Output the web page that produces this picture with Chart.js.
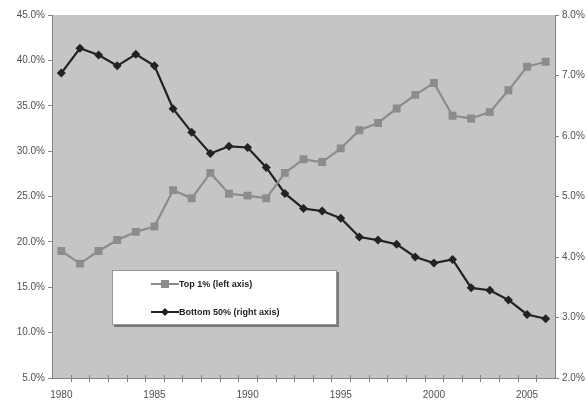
<!DOCTYPE html>
<html>
<head>
<meta charset="utf-8">
<script src="https://cdn.jsdelivr.net/npm/chart.js@4.4.0/dist/chart.umd.min.js"></script>
<style>
  html,body{margin:0;padding:0;background:#fff;}
  #wrap{width:587px;height:400px;position:relative;}
</style>
</head>
<body>
<div id="wrap"><canvas id="c"></canvas></div>
<script>
// data
var years=["1980","1981","1982","1983","1984","1985","1986","1987","1988","1989","1990","1991","1992","1993","1994","1995","1996","1997","1998","1999","2000","2001","2002","2003","2004","2005","2006"]
var top1=[19.0,17.6,19.0,20.2,21.1,21.7,25.7,24.8,27.6,25.3,25.1,24.8,27.6,29.1,28.8,30.3,32.3,33.1,34.7,36.2,37.5,33.9,33.6,34.3,36.7,39.3,39.85]
var bottom50=[7.04,7.45,7.34,7.16,7.35,7.16,6.45,6.06,5.71,5.83,5.81,5.48,5.05,4.80,4.76,4.64,4.33,4.28,4.21,4.00,3.90,3.96,3.49,3.45,3.29,3.05,2.98]
var xLabels=["1980","1985","1990","1995","2000","2005"]

var gray_line='rgb(140,140,142)'
var dark_line='rgb(34,34,34)'
var plot_bg='rgb(197,197,199)'
var axis_color='rgb(130,130,130)'
var text_color='rgb(80,80,80)'
var tick_font={size:10,family:'"Liberation Sans", Arial, sans-serif'}

// plot area background
const bgPlugin={
  id:'plotBg',
  beforeDraw:(chart)=>{
    const {ctx,chartArea:a}=chart
    ctx.save()
    ctx.fillStyle=plot_bg
    ctx.fillRect(a.left,a.top,a.right-a.left,a.bottom-a.top)
    ctx.restore()
  }
}

// x axis tick marks cross the axis line
const crossTicks={
  id:'crossTicks',
  afterDraw:(chart)=>{
    const {ctx,chartArea:a}=chart
    const xs=chart.scales.x
    var step=xs.getPixelForValue(1)-xs.getPixelForValue(0)
    ctx.save()
    ctx.strokeStyle=axis_color
    ctx.lineWidth=1
    ctx.beginPath()
    ctx.moveTo(a.left,a.bottom+0.5);ctx.lineTo(a.right,a.bottom+0.5)
    for(var i=1;i<years.length;i++){
      var px=Math.round(xs.getPixelForValue(i)-step/2)+0.5
      ctx.moveTo(px,a.bottom-3);ctx.lineTo(px,a.bottom+4)
    }
    ctx.stroke()
    ctx.restore()
  }
}

// legend box inside the plot
const boxLegend={
  id:'boxLegend',
  afterDraw:(chart)=>{
    const ctx=chart.ctx
    const x=112,y=270,w=225,h=55
    ctx.save()
    ctx.fillStyle='rgb(120,120,122)'
    ctx.fillRect(x+2,y+2,w,h)
    ctx.fillStyle='#fff'
    ctx.fillRect(x,y,w,h)
    ctx.strokeStyle='rgb(150,150,150)'
    ctx.lineWidth=1
    ctx.strokeRect(x+0.5,y+0.5,w-1,h-1)
    var rows=[y+14,y+42]
    chart.data.datasets.forEach(function(ds,i){
      var ry=rows[i]
      ctx.strokeStyle=ds.borderColor
      ctx.lineWidth=2
      ctx.beginPath();ctx.moveTo(x+39,ry);ctx.lineTo(x+67,ry);ctx.stroke()
      ctx.fillStyle=ds.borderColor
      if(ds.pointStyle=='rect'){
        ctx.fillRect(x+49,ry-4,8,8)
      }else{
        ctx.beginPath()
        ctx.moveTo(x+53,ry-4);ctx.lineTo(x+57,ry);ctx.lineTo(x+53,ry+4);ctx.lineTo(x+49,ry);ctx.closePath();ctx.fill()
      }
      ctx.fillStyle='rgb(30,30,30)'
      ctx.font='bold 9px "Liberation Sans", Arial, sans-serif'
      ctx.textBaseline='middle'
      ctx.fillText(ds.label,x+67,ry+1)
    })
    ctx.restore()
  }
}

var chart=new Chart(document.getElementById('c'),{
  type:'line',
  data:{
    labels:years,
    datasets:[{
      label:'Top 1% (left axis)',
      data:top1,
      yAxisID:'yL',
      borderColor:gray_line,
      backgroundColor:gray_line,
      borderWidth:2.2,
      pointStyle:'rect',
      pointRadius:5.6,
      pointBorderWidth:0,
      tension:0
    },{
      label:'Bottom 50% (right axis)',
      data:bottom50,
      yAxisID:'yR',
      borderColor:dark_line,
      backgroundColor:dark_line,
      borderWidth:2.2,
      pointStyle:'rectRot',
      pointRadius:4.5,
      pointBorderWidth:0,
      tension:0
    }]
  },
  options:{
    responsive:true,
    maintainAspectRatio:false,
    animation:false,
    layout:{padding:{top:15,left:0,right:0,bottom:0}},
    plugins:{legend:{display:false},tooltip:{enabled:false}},
    scales:{
      x:{
        type:'category',
        offset:true,
        afterFit:function(s){s.height=22},
        grid:{display:false,drawOnChartArea:false},
        border:{display:false},
        ticks:{
          color:text_color,
          font:tick_font,
          maxRotation:0,autoSkip:false,padding:3,
          callback:function(v,i){var l=years[i];return xLabels.indexOf(l)>=0?l:''}
        }
      },
      yL:{
        position:'left',
        min:5,max:45,
        afterFit:function(s){s.width=52},
        grid:{drawOnChartArea:false,tickLength:4,color:axis_color},
        border:{display:true,color:axis_color,width:1},
        ticks:{
          stepSize:5,color:text_color,padding:3,
          font:tick_font,
          callback:function(v){return v.toFixed(1)+'%'}
        }
      },
      yR:{
        position:'right',
        min:2,max:8,
        afterFit:function(s){s.width=32},
        grid:{drawOnChartArea:false,tickLength:4,color:axis_color},
        border:{display:true,color:axis_color,width:1},
        ticks:{
          stepSize:1,color:text_color,padding:3,
          font:tick_font,
          callback:function(v){return v.toFixed(1)+'%'}
        }
      }
    }
  },
  plugins:[bgPlugin,crossTicks,boxLegend]
})
</script>
</body>
</html>
